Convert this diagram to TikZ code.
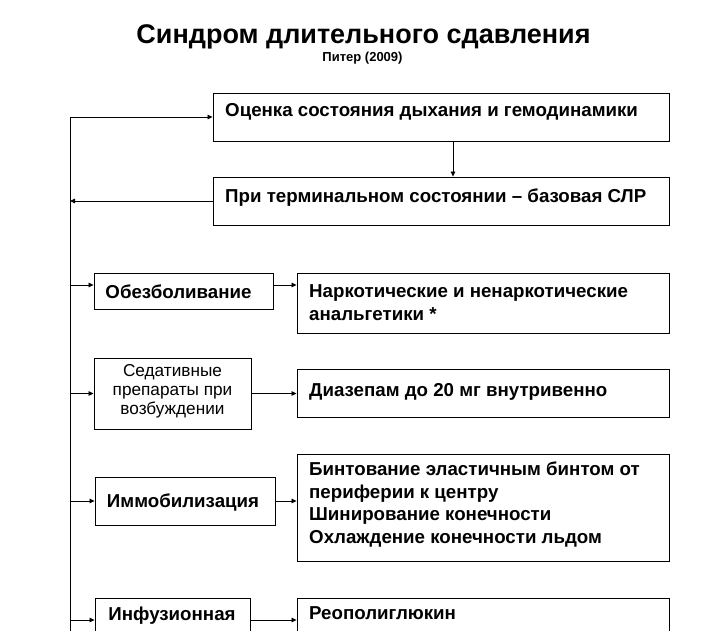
\documentclass[tikz,border=0pt]{standalone}
\usepackage{fontspec}
\setmainfont{Liberation Sans}
\usetikzlibrary{arrows.meta}
\tikzset{
  box/.style={draw, line width=0.9pt, rectangle, inner sep=0pt},
  arr/.style={-{Triangle[length=5pt,width=4.5pt]}, line width=0.8pt},
  btxt/.style={font=\bfseries\fontsize{18.7}{22}\selectfont, anchor=base west, inner sep=0pt},
  ctxt/.style={font=\bfseries\fontsize{18.7}{22}\selectfont, anchor=base, inner sep=0pt},
  rtxt/.style={font=\fontsize{17.2}{19}\selectfont, anchor=base, inner sep=0pt},
}
\begin{document}
\begin{tikzpicture}[x=1pt,y=-1pt]
\clip (0,0) rectangle (726,630);
\fill[white] (0,0) rectangle (726,630);
% title
\node[font=\bfseries\fontsize{27}{30}\selectfont, anchor=base, inner sep=0pt] (title) at (363.5,43.3) {Синдром длительного сдавления};
\node[font=\bfseries\fontsize{13}{15}\selectfont, anchor=base, inner sep=0pt] (sub) at (362.5,61) {Питер (2009)};
% boxes
\node[box, minimum width=456pt, minimum height=48pt] (b1) at (441,117) {};
\node[box, minimum width=456pt, minimum height=48pt] (b2) at (441,201) {};
\node[box, minimum width=179pt, minimum height=36pt] (c1) at (183.5,291) {};
\node[box, minimum width=372pt, minimum height=60pt] (d1) at (483,303) {};
\node[box, minimum width=157pt, minimum height=71pt] (c2) at (172.5,393.5) {};
\node[box, minimum width=372pt, minimum height=48pt] (d2) at (483,393) {};
\node[box, minimum width=180pt, minimum height=48pt] (c3) at (185,501) {};
\node[box, minimum width=372pt, minimum height=107pt] (d3) at (483,507.5) {};
\node[box, minimum width=155pt, minimum height=62pt] (c4) at (172.5,629) {};
\node[box, minimum width=372pt, minimum height=62pt] (d4) at (483,629) {};
% texts
\node[btxt] (t1) at (225,116.5) {Оценка состояния дыхания и гемодинамики};
\node[btxt] (t2) at (225,202) {При терминальном состоянии – базовая СЛР};
\node[ctxt] (tc1) at (178.5,298) {Обезболивание};
\node[btxt] (td1a) at (309,297.5) {Наркотические и ненаркотические};
\node[btxt] (td1b) at (309,320.5) {анальгетики *};
\node[rtxt] (tc2a) at (172.5,376) {Седативные};
\node[rtxt] (tc2b) at (172.5,395) {препараты при};
\node[rtxt] (tc2c) at (172.5,414.5) {возбуждении};
\node[btxt] (td2) at (309,396) {Диазепам до 20 мг внутривенно};
\node[ctxt] (tc3) at (183,507.5) {Иммобилизация};
\node[btxt] (td3a) at (309,475.5) {Бинтование эластичным бинтом от};
\node[btxt] (td3b) at (309,498) {периферии к центру};
\node[btxt] (td3c) at (309,520.5) {Шинирование конечности};
\node[btxt] (td3d) at (309,543) {Охлаждение конечности льдом};
\node[ctxt] (tc4) at (172,620.5) {Инфузионная};
\node[btxt] (td4) at (309,619.5) {Реополиглюкин};
% connectors
\coordinate (top) at (70,117);
\coordinate (bot) at (70,640);
\draw[line width=0.9pt] (top) -- (bot);
\draw[arr] (top) -- (b1.west);
\draw[arr] ([xshift=12pt]b1.south) -- ([xshift=12pt]b2.north);
\draw[arr] (b2.west) -- (b2.west -| top);
\coordinate (r1) at (70,285);
\draw[arr] (r1) -- (r1 -| c1.west);
\draw[arr] (r1 -| c1.east) -- (r1 -| d1.west);
\draw[arr] (c2.west -| top) -- (c2.west);
\draw[arr] (c2.east) -- (c2.east -| d2.west);
\draw[arr] (c3.west -| top) -- (c3.west);
\draw[arr] (c3.east) -- (c3.east -| d3.west);
\coordinate (r4) at (70,620);
\draw[arr] (r4) -- (r4 -| c4.west);
\draw[arr] (r4 -| c4.east) -- (r4 -| d4.west);
\end{tikzpicture}
\end{document}
